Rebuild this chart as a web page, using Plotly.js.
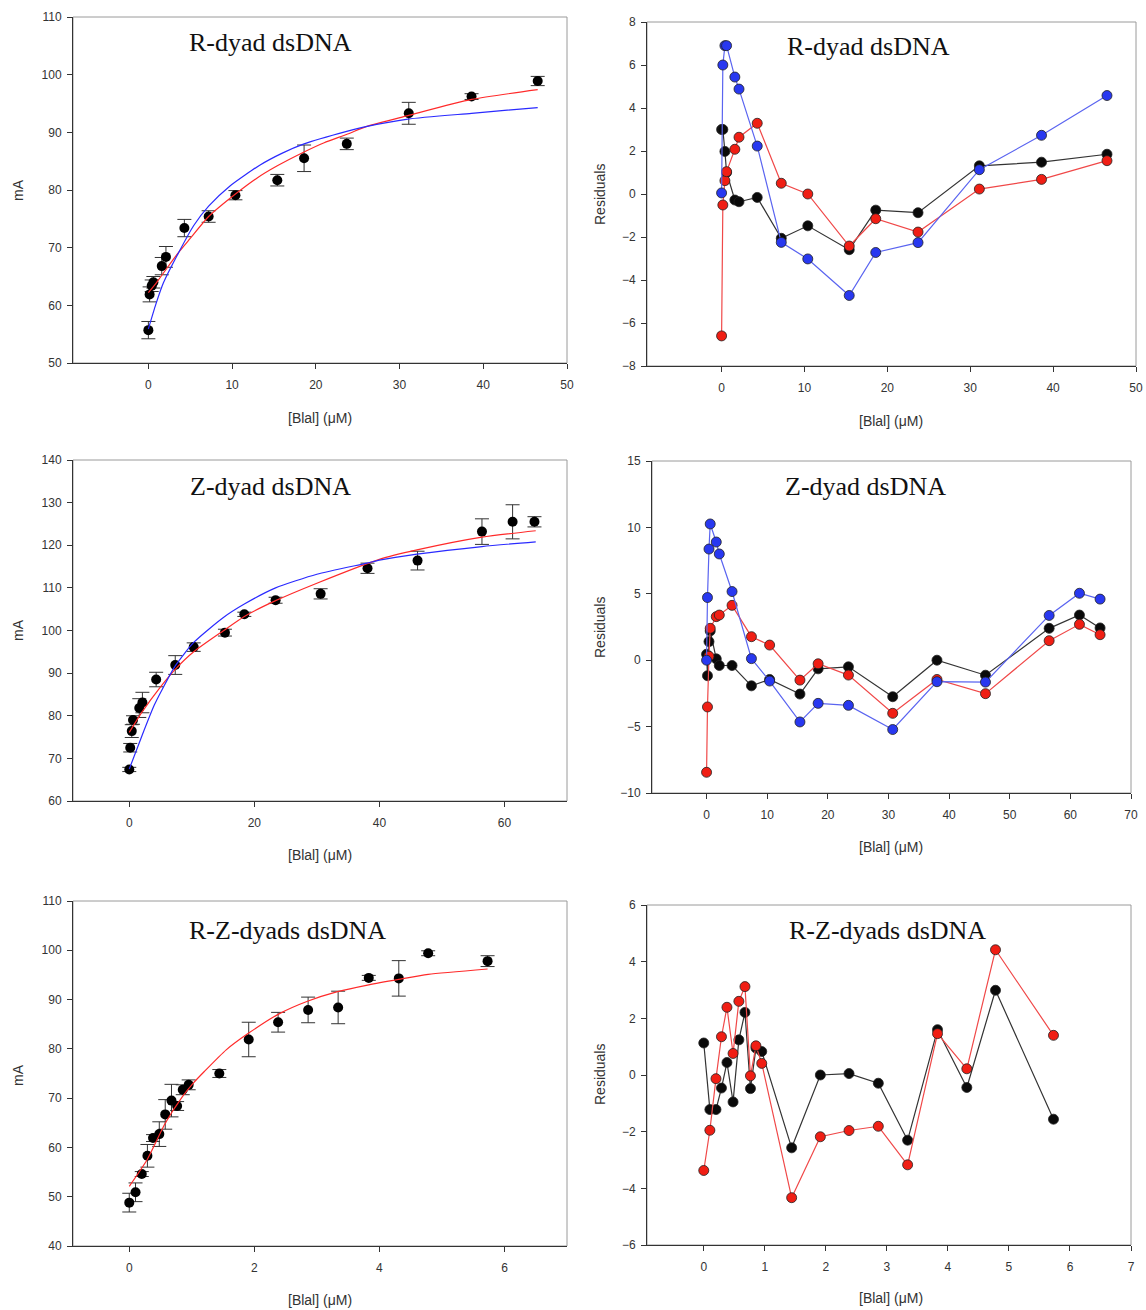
<!DOCTYPE html>
<html><head><meta charset="utf-8">
<script src="https://cdn.plot.ly/plotly-3.0.1.min.js"></script>
<style>html,body{margin:0;padding:0;background:#fff}#chart{width:1146px;height:1310px}</style>
</head><body><div id="chart"></div>
<script>
// ---------- R-dyad dsDNA ----------
const rX = [0, 0.15, 0.4, 0.6, 1.6, 2.1, 4.3, 7.2, 10.4, 15.4, 18.6, 23.7, 31.1, 38.6, 46.5];
const rY = [55.7, 61.9, 63.4, 64.0, 66.8, 68.4, 73.4, 75.4, 79.1, 81.7, 85.5, 88.0, 93.3, 96.2, 98.9];
const rErr = [1.5, 1.3, 1.0, 1.0, 1.5, 1.8, 1.5, 1.0, 0.8, 1.0, 2.3, 1.0, 1.9, 0.5, 0.8];
const rFitRedX = [0, 1, 2, 3.4, 5, 7.2, 10.4, 13, 15.4, 18.6, 21, 23.8, 26, 31, 38.6, 46.5];
const rFitRedY = [62.2, 64.0, 66.0, 68.8, 71.6, 75.4, 79.3, 82.1, 84.2, 86.6, 88.2, 89.7, 91.0, 92.9, 95.7, 97.4];
const rFitBlueX = [0, 0.9, 1.8, 3.6, 5.4, 7.2, 9.75, 13.3, 16, 18.6, 23.8, 26, 31, 38.6, 46.5];
const rFitBlueY = [55.9, 60.2, 63.9, 69.1, 73.8, 77.2, 80.7, 84.3, 86.4, 88.0, 90.2, 91.0, 92.3, 93.3, 94.3];
const rResBlack = [3.0, 3.0, 1.98, 1.0, -0.28, -0.36, -0.16, -2.06, -1.48, -2.59, -0.75, -0.87, 1.31, 1.48, 1.85];
const rResRed = [-6.6, -0.51, 0.62, 1.04, 2.08, 2.64, 3.29, 0.5, 0.0, -2.42, -1.15, -1.77, 0.23, 0.68, 1.55];
const rResBlue = [0.05, 6.0, 6.9, 6.9, 5.44, 4.88, 2.23, -2.25, -3.02, -4.72, -2.72, -2.26, 1.13, 2.73, 4.58];

// ---------- Z-dyad dsDNA ----------
const zX = [0, 0.15, 0.4, 0.6, 1.6, 2.1, 4.3, 7.35, 10.3, 15.3, 18.4, 23.4, 30.6, 38.1, 46.1, 56.4, 61.3, 64.8];
const zY = [67.4, 72.5, 76.4, 79.0, 81.8, 83.1, 88.5, 91.9, 96.1, 99.5, 103.8, 107.1, 108.6, 114.6, 116.4, 123.2, 125.5, 125.5];
const zErr = [0.5, 1.0, 1.5, 1.0, 2.2, 2.4, 1.7, 2.2, 1.0, 0.8, 0.5, 0.7, 1.2, 1.2, 2.2, 3.0, 4.0, 1.2];
const zFitRedX = [0, 2, 5, 7.35, 10.3, 15, 18.4, 23.4, 30, 40, 46, 56.4, 65];
const zFitRedY = [76.1, 80.8, 86.8, 90.9, 95.0, 99.9, 103.3, 107.0, 111.1, 116.7, 118.9, 121.9, 123.4];
const zFitBlueX = [0, 2, 4, 5.2, 7.35, 10.3, 15, 18.4, 23.4, 30, 38, 40, 46, 56.4, 65];
const zFitBlueY = [67.5, 75.2, 82.5, 86.0, 91.7, 97.2, 103.0, 106.2, 110.0, 113.2, 115.8, 116.5, 117.9, 119.7, 120.8];
const zResX = [0, 0.15, 0.4, 0.6, 1.6, 2.1, 4.2, 7.4, 10.4, 15.4, 18.4, 23.4, 30.7, 38.0, 46.0, 56.5, 61.5, 64.9];
const zResBlack = [0.45, -1.17, 1.4, 2.2, 0.1, -0.4, -0.4, -1.93, -1.45, -2.55, -0.65, -0.5, -2.75, 0.0, -1.13, 2.4, 3.4, 2.43];
const zResRed = [-8.44, -3.52, 0.3, 2.4, 3.28, 3.4, 4.13, 1.77, 1.14, -1.5, -0.27, -1.12, -4.0, -1.45, -2.52, 1.47, 2.7, 1.92];
const zResBlue = [0.0, 4.72, 8.37, 10.26, 8.9, 8.0, 5.17, 0.12, -1.57, -4.65, -3.25, -3.40, -5.22, -1.62, -1.65, 3.37, 5.04, 4.6];

// ---------- R-Z-dyads dsDNA ----------
const rzX = [0, 0.1, 0.2, 0.29, 0.38, 0.48, 0.575, 0.675, 0.765, 0.855, 0.95, 1.44, 1.91, 2.38, 2.86, 3.34, 3.83, 4.31, 4.78, 5.73];
const rzY = [48.8, 50.9, 54.6, 58.3, 61.9, 62.7, 66.7, 69.5, 68.4, 71.7, 72.7, 75.0, 81.9, 85.4, 87.9, 88.4, 94.4, 94.3, 99.4, 97.8];
const rzErr = [1.9, 1.9, 0.5, 2.3, 0.7, 2.5, 3.0, 3.3, 0.9, 1.0, 1.0, 0.8, 3.5, 2.0, 2.6, 3.3, 0.5, 3.6, 0.5, 1.1];
const rzFitX = [0, 0.29, 0.575, 0.85, 1.02, 1.2, 1.55, 1.91, 2.38, 2.86, 3.33, 3.83, 4.31, 4.78, 5.73];
const rzFitY = [52.1, 57.6, 64.9, 70.3, 73.0, 75.4, 79.8, 83.2, 87.0, 89.7, 91.6, 93.0, 94.1, 95.1, 96.2];
const rzResBlack = [1.13, -1.22, -1.22, -0.46, 0.44, -0.95, 1.24, 2.21, -0.48, 0.95, 0.83, -2.57, 0.0, 0.05, -0.29, -2.3, 1.6, -0.44, 2.99, -1.56];
const rzResRed = [-3.37, -1.95, -0.13, 1.35, 2.39, 0.76, 2.6, 3.12, -0.03, 1.03, 0.41, -4.33, -2.18, -1.96, -1.81, -3.17, 1.46, 0.22, 4.42, 1.40];

const titles = ['R-dyad dsDNA', 'Z-dyad dsDNA', 'R-Z-dyads dsDNA'];
const xTitle = '[Blal] (\u03bcM)';

// ---------- layout helpers ----------
const W = 1146, H = 1310;
const FONT = 'Liberation Sans, Arial, sans-serif';
const SERIF = 'Liberation Serif, Times New Roman, serif';
function axis(d0, d1, range, dtick, anchor, isX) {
  return {
    domain: [d0, d1], range: range, dtick: dtick, tick0: 0, anchor: anchor,
    showline: true, linecolor: '#333', linewidth: 1, mirror: false,
    ticks: 'outside', ticklen: 5, tickcolor: '#333', tickwidth: 1,
    ticklabelstandoff: isX ? 6 : 3,
    tickfont: {family: FONT, size: 12, color: '#333'},
    showgrid: false, zeroline: false, fixedrange: true
  };
}
function xd(a, b) { return [a / W, b / W]; }
function yd(top, bottom) { return [1 - bottom / H, 1 - top / H]; }

const panels = [
  {x: xd(73, 567), y: yd(17, 363), xr: [-9, 50], xt: 10, yr: [50, 110], yt: 10},
  {x: xd(647, 1136), y: yd(22, 366), xr: [-9, 50], xt: 10, yr: [-8, 8], yt: 2},
  {x: xd(73, 567), y: yd(460, 801), xr: [-9, 70], xt: 20, yr: [60, 140], yt: 10},
  {x: xd(652, 1131), y: yd(461, 793), xr: [-9, 70], xt: 10, yr: [-10, 15], yt: 5},
  {x: xd(73, 567), y: yd(901, 1246), xr: [-0.9, 7], xt: 2, yr: [40, 110], yt: 10},
  {x: xd(647, 1131), y: yd(905, 1245), xr: [-0.93, 7], xt: 1, yr: [-6, 6], yt: 2}
];

const layout = {
  width: W, height: H, margin: {l: 0, r: 0, t: 0, b: 0},
  paper_bgcolor: '#fff', plot_bgcolor: '#fff', showlegend: false,
  shapes: [], annotations: []
};
panels.forEach((p, i) => {
  const n = i === 0 ? '' : String(i + 1);
  layout['xaxis' + n] = axis(p.x[0], p.x[1], p.xr, p.xt, 'y' + n, true);
  layout['yaxis' + n] = axis(p.y[0], p.y[1], p.yr, p.yt, 'x' + n, false);
  layout.shapes.push({type: 'rect', xref: 'x' + n + ' domain', yref: 'y' + n + ' domain',
    x0: 0, x1: 1, y0: 0, y1: 1, line: {color: '#9a9a9a', width: 1}, layer: 'below'});
});

function ann(text, px, py, font, rot) {
  layout.annotations.push({text: text, xref: 'paper', yref: 'paper', x: px / W, y: 1 - py / H,
    xanchor: 'center', yanchor: 'middle', showarrow: false, font: font, textangle: rot || 0});
}
const tFont = {family: SERIF, size: 26, color: '#111'};
const aFont = {family: FONT, size: 14, color: '#333'};
ann(titles[0], 270, 42, tFont); ann(titles[0], 868, 47, tFont);
ann(titles[1], 270, 487, tFont); ann(titles[1], 865, 487, tFont);
ann(titles[2], 287, 930, tFont); ann(titles[2], 887, 930, tFont);
ann(xTitle, 320, 418, aFont); ann(xTitle, 891, 421, aFont);
ann(xTitle, 320, 855, aFont); ann(xTitle, 891, 847, aFont);
ann(xTitle, 320, 1300, aFont); ann(xTitle, 891, 1298, aFont);
ann('mA', 18, 190, aFont, -90); ann('mA', 18, 630, aFont, -90); ann('mA', 18, 1075, aFont, -90);
ann('Residuals', 600, 195, aFont, -90); ann('Residuals', 600, 628, aFont, -90); ann('Residuals', 600, 1075, aFont, -90);

// ---------- traces ----------
const traces = [];
function dataTrace(x, y, err, xa, ya) {
  traces.push({type: 'scatter', mode: 'markers', x: x, y: y, xaxis: xa, yaxis: ya,
    marker: {color: '#000', size: 10},
    error_y: {type: 'data', array: err, visible: true, color: '#333', thickness: 1, width: 7}});
}
function fitTrace(x, y, color, xa, ya) {
  traces.push({type: 'scatter', mode: 'lines', x: x, y: y, xaxis: xa, yaxis: ya,
    line: {color: color, width: 1.2, shape: 'spline', smoothing: 0.6}});
}
function resTrace(x, y, fill, lineColor, xa, ya) {
  traces.push({type: 'scatter', mode: 'lines+markers', x: x, y: y, xaxis: xa, yaxis: ya,
    line: {color: lineColor, width: 1.2},
    marker: {color: fill, size: 10, line: {color: '#222', width: 0.8}}});
}
const RED = '#f01e14', BLUE = '#2838f0', BLACK = '#0a0a0a';
const REDL = '#f04848', BLUEL = '#5a64f0', BLACKL = '#333';

dataTrace(rX, rY, rErr, 'x', 'y');
fitTrace(rFitRedX, rFitRedY, '#ff2a2a', 'x', 'y');
fitTrace(rFitBlueX, rFitBlueY, '#2a2aff', 'x', 'y');
resTrace(rX, rResBlack, BLACK, BLACKL, 'x2', 'y2');
resTrace(rX, rResRed, RED, REDL, 'x2', 'y2');
resTrace(rX, rResBlue, BLUE, BLUEL, 'x2', 'y2');

dataTrace(zX, zY, zErr, 'x3', 'y3');
fitTrace(zFitRedX, zFitRedY, '#ff2a2a', 'x3', 'y3');
fitTrace(zFitBlueX, zFitBlueY, '#2a2aff', 'x3', 'y3');
resTrace(zResX, zResBlack, BLACK, BLACKL, 'x4', 'y4');
resTrace(zResX, zResRed, RED, REDL, 'x4', 'y4');
resTrace(zResX, zResBlue, BLUE, BLUEL, 'x4', 'y4');

dataTrace(rzX, rzY, rzErr, 'x5', 'y5');
fitTrace(rzFitX, rzFitY, '#ff2a2a', 'x5', 'y5');
resTrace(rzX, rzResBlack, BLACK, BLACKL, 'x6', 'y6');
resTrace(rzX, rzResRed, RED, REDL, 'x6', 'y6');

Plotly.newPlot('chart', traces, layout, {staticPlot: true, displayModeBar: false});
</script>
</body></html>
